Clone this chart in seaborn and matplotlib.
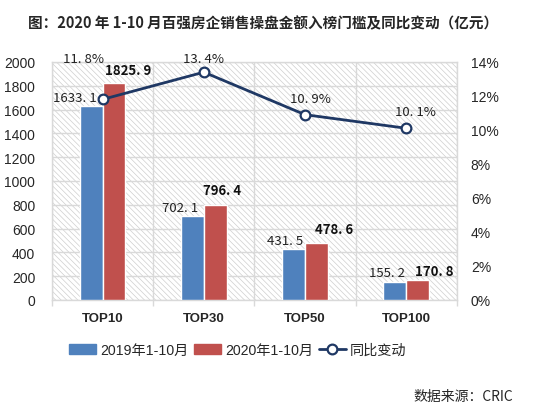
import numpy as np
import pandas as pd
import matplotlib
matplotlib.use('Agg')
import matplotlib.pyplot as plt
from matplotlib.patches import Rectangle
from matplotlib.ticker import FuncFormatter
import seaborn as sns

categories = ['TOP10', 'TOP30', 'TOP50', 'TOP100']
sales_2019 = [1633.1, 702.1, 431.5, 155.2]
sales_2020 = [1825.9, 796.4, 478.6, 170.8]
yoy_change = [11.8, 13.4, 10.9, 10.1]
series_names = ['2019年1-10月', '2020年1-10月']
line_name = '同比变动'

sns.set_theme(style='white')
plt.rcParams['font.family'] = ['Liberation Sans', 'Noto Sans CJK SC', 'DejaVu Sans']
plt.rcParams['hatch.linewidth'] = 0.5
cjk = ['Noto Sans CJK SC', 'DejaVu Sans']

BLUE = '#4F81BD'
RED = '#C0504D'
NAVY = '#1F3864'
GRID = '#D9D9D9'

df = pd.DataFrame({
    'cat': categories * 2,
    'value': sales_2019 + sales_2020,
    'series': [series_names[0]] * 4 + [series_names[1]] * 4,
})

fig = plt.figure(figsize=(5.37, 4.10), dpi=100)
ax = fig.add_axes([0.0968, 0.2659, 0.754, 0.5805])

# hatched plot background
bg = Rectangle((0, 0), 1, 1, transform=ax.transAxes, facecolor='white',
               edgecolor='#CFCFCF', hatch='\\' * 6, linewidth=0, zorder=0)
ax.add_patch(bg)

sns.barplot(data=df, x='cat', y='value', hue='series', palette=[BLUE, RED],
            width=0.45, saturation=1, ax=ax, zorder=3, legend=False)

ax.set_ylim(0, 2000)
ax.set_yticks(np.arange(0, 2001, 200))
ax.set_xlim(-0.5, 3.5)
ax.set_xlabel('')
ax.set_ylabel('')
ax.set_xticks(range(4))
ax.set_xticklabels(categories, fontweight='bold', fontsize=9.5)
ax.set_xticks([-0.5, 0.5, 1.5, 2.5, 3.5], minor=True)
ax.tick_params(axis='x', which='major', length=0, pad=9)
ax.tick_params(axis='x', which='minor', length=4, color=GRID, width=1, direction='out', bottom=True)
ax.tick_params(axis='y', length=0, labelsize=10, pad=12)
ax.yaxis.grid(True, color=GRID, linewidth=1, zorder=1)
ax.xaxis.grid(True, which='minor', color=GRID, linewidth=1, zorder=1)
ax.set_axisbelow(True)
for s in ax.spines.values():
    s.set_color(GRID)
    s.set_linewidth(1)

# bar value labels (offsets in points from bar top)
off19 = [(-12, 3), (-9, 4), (-6.5, 3.5), (-6, 4)]
off20 = [(10, 6), (5, 8), (13, 7), (12, 3)]
for i in range(4):
    ax.annotate(f'{sales_2019[i]:.1f}'.replace('.', '. '), (i - 0.1125, sales_2019[i]),
                xytext=off19[i], textcoords='offset points', ha='center', va='baseline',
                fontsize=9.5, family=cjk, color='#222222', zorder=6)
    ax.annotate(f'{sales_2020[i]:.1f}'.replace('.', '. '), (i + 0.1125, sales_2020[i]),
                xytext=off20[i], textcoords='offset points', ha='center', va='baseline',
                fontsize=9.5, family=cjk, fontweight='bold', color='#111111', zorder=6)

ax2 = ax.twinx()
sns.lineplot(x=np.arange(4), y=yoy_change, ax=ax2, color=NAVY, linewidth=2,
             marker='o', markersize=7, markerfacecolor='white', markeredgecolor=NAVY,
             markeredgewidth=1.6, zorder=5)
ax2.set_xlim(-0.5, 3.5)
ax2.set_ylim(0, 14)
ax2.set_yticks(np.arange(0, 15, 2))
ax2.yaxis.set_major_formatter(FuncFormatter(lambda v, p: f'{v:.0f}%'))
ax2.tick_params(axis='y', length=0, labelsize=10, pad=10)
ax2.set_ylabel('')
for s in ax2.spines.values():
    s.set_visible(False)

off_pct = [(-14, 27), (0, 7), (4, 9), (6.5, 9.5)]
for i in range(4):
    ax2.annotate(f'{yoy_change[i]:.1f}%'.replace('.', '. '), (i, yoy_change[i]),
                 xytext=off_pct[i], textcoords='offset points', ha='center', va='baseline',
                 fontsize=9.5, family=cjk, color='#222222', zorder=6, annotation_clip=False)

# legend
handles = [Rectangle((0, 0), 1, 1, color=BLUE), Rectangle((0, 0), 1, 1, color=RED),
           plt.Line2D([], [], color=NAVY, linewidth=2, marker='o', markersize=7,
                      markerfacecolor='white', markeredgecolor=NAVY, markeredgewidth=1.6)]
fig.legend(handles, series_names + [line_name], loc='center', bbox_to_anchor=(0.443, 0.144),
           ncol=3, frameon=False, handlelength=1.9, handleheight=0.65,
           handletextpad=0.3, columnspacing=0.4,
           prop={'family': ['Liberation Sans', 'Noto Sans CJK SC'], 'size': 10.2})

fig.text(0.052, 0.944, '图：2020 年 1-10 月百强房企销售操盘金额入榜门槛及同比变动（亿元）',
         fontsize=10.5, fontweight='bold', family=cjk, ha='left', va='center')
fig.text(0.955, 0.032, '数据来源：CRIC', fontsize=10, family=cjk, ha='right', va='center')

fig.savefig('out.png', dpi=100)
